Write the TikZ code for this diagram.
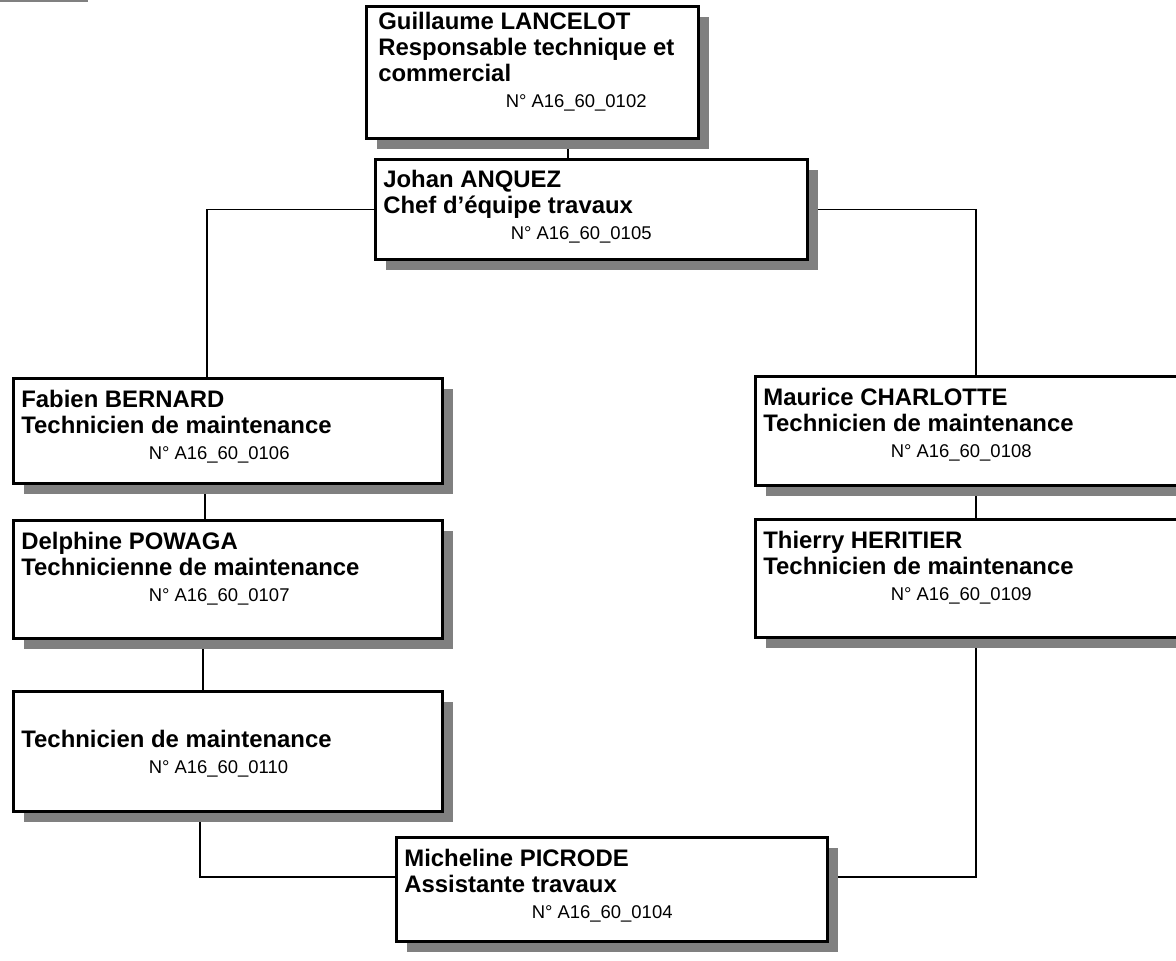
\documentclass[tikz,border=0pt]{standalone}
\usepackage{fontspec}
\setmainfont{Liberation Sans}
\usetikzlibrary{shadows,backgrounds}
\definecolor{ombre}{HTML}{808080}
\newcommand{\numpost}[1]{\fontsize{10.5}{12.6}\selectfont\mdseries\hspace*{2.55cm}N° A16\_60\_#1}
\begin{document}
\begin{tikzpicture}[x=0.02cm,y=-0.02cm,
	poste/.style={draw,line width=1.8pt,fill=white,anchor=north west,inner sep=0pt,
		drop shadow={shadow xshift=0.2cm,shadow yshift=-0.2cm,fill=ombre,opacity=1}},
	txt/.style={anchor=north west,inner sep=0pt,align=left,font=\fontsize{13.6}{14.8}\selectfont\bfseries},
	lien/.style={line width=0.85pt}]
	\useasboundingbox (0,0) rectangle (1176,960);
	\clip (0,0) rectangle (1176,960);
	\fill[ombre] (0,0) rectangle (88,2);

	\node[poste,minimum width=332*0.02cm,minimum height=132*0.02cm] (lancelot) at (365,5) {};
	\node[poste,minimum width=432*0.02cm,minimum height=100*0.02cm] (anquez) at (374,158) {};
	\node[poste,minimum width=429*0.02cm,minimum height=105*0.02cm] (bernard) at (12,377) {};
	\node[poste,minimum width=429*0.02cm,minimum height=118*0.02cm] (powaga) at (12,519) {};
	\node[poste,minimum width=429*0.02cm,minimum height=120*0.02cm] (technicien) at (12,690) {};
	\node[poste,minimum width=440*0.02cm,minimum height=109*0.02cm] (charlotte) at (754,375) {};
	\node[poste,minimum width=440*0.02cm,minimum height=118*0.02cm] (heritier) at (754,518) {};
	\node[poste,minimum width=431*0.02cm,minimum height=104*0.02cm] (picrode) at (395,836) {};

	\node[txt] (lancelot-t) at ([shift={(13,7)}]lancelot.north west) {Guillaume LANCELOT\\Responsable technique et\\commercial\\\numpost{0102}};
	\node[txt] (anquez-t) at ([shift={(9,12)}]anquez.north west) {Johan ANQUEZ\\Chef d’équipe travaux\\\numpost{0105}};
	\node[txt] (bernard-t) at ([shift={(9,13)}]bernard.north west) {Fabien BERNARD\\Technicien de maintenance\\\numpost{0106}};
	\node[txt] (powaga-t) at ([shift={(9,13)}]powaga.north west) {Delphine POWAGA\\Technicienne de maintenance\\\numpost{0107}};
	\node[txt] (technicien-t) at ([shift={(9,13)}]technicien.north west) {\strut\\Technicien de maintenance\\\numpost{0110}};
	\node[txt] (charlotte-t) at ([shift={(9,13)}]charlotte.north west) {Maurice CHARLOTTE\\Technicien de maintenance\\\numpost{0108}};
	\node[txt] (heritier-t) at ([shift={(9,13)}]heritier.north west) {Thierry HERITIER\\Technicien de maintenance\\\numpost{0109}};
	\node[txt] (picrode-t) at ([shift={(9,13)}]picrode.north west) {Micheline PICRODE\\Assistante travaux\\\numpost{0104}};

	\begin{scope}[on background layer]
	\draw[lien] (lancelot.south -| 568,0) -- (anquez.north -| 568,0);
	\draw[lien] (anquez.west) -| (bernard.north -| 207,0);
	\draw[lien] (anquez.east) -| (charlotte.north -| 976,0);
	\draw[lien] (bernard.south -| 205,0) -- (powaga.north -| 205,0);
	\draw[lien] (powaga.south -| 203,0) -- (technicien.north -| 203,0);
	\draw[lien] (charlotte.south -| 976,0) -- (heritier.north -| 976,0);
	\draw[lien] (heritier.south -| 976,0) |- (picrode.east |- 0,877);
	\draw[lien] (technicien.south -| 200,0) |- (picrode.west |- 0,877);
	\end{scope}
\end{tikzpicture}
\end{document}
